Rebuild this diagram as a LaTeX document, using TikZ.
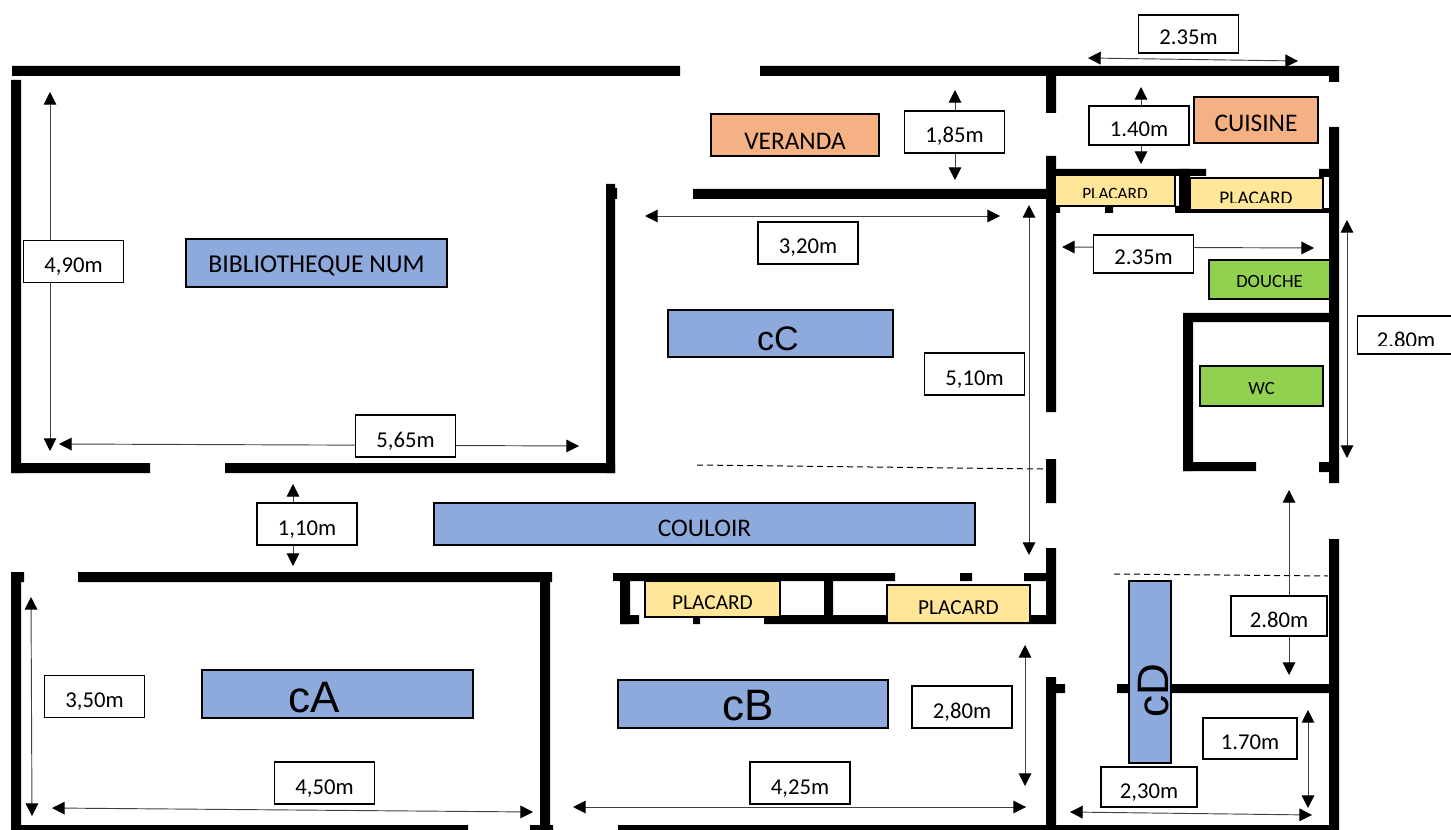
\documentclass[tikz,border=0pt]{standalone}
\usepackage{fontspec}
\usetikzlibrary{arrows.meta}
\setmainfont{Carlito}
\newfontfamily\bigfont{Liberation Sans}
\tikzset{
    wall/.style={fill=black},
    dimline/.style={<->,>={Triangle[length=9.5pt,width=9.5pt,color=black]},line width=0.7pt,draw=black!75},
    cutline/.style={dash pattern=on 4.5pt off 3pt,line width=0.75pt},
    dimbox/.style={draw,fill=white,line width=1pt,inner sep=0pt,minimum width=75pt,minimum height=31.5pt,
        text height=16.5pt,text depth=0pt,font=\fontsize{17}{20}\selectfont},
    room/.style={draw,line width=1pt,inner sep=0pt,text depth=0pt},
    blueroom/.style={room,fill={rgb,255:red,142;green,169;blue,219}},
    orangeroom/.style={room,fill={rgb,255:red,244;green,177;blue,131},font=\fontsize{19}{22}\selectfont},
    yellowroom/.style={room,fill={rgb,255:red,255;green,230;blue,153},font=\fontsize{16}{19}\selectfont,text height=15pt},
    greenroom/.style={room,fill={rgb,255:red,146;green,208;blue,80},font=\fontsize{14}{17}\selectfont},
    bigtext/.style={anchor=base,inner sep=0pt,font=\bigfont\fontsize{33}{36}\selectfont},
    cuttext/.style={anchor=base,inner sep=0pt},
}
\begin{document}
\begin{tikzpicture}[x=0.75pt,y=-0.75pt]
    \useasboundingbox (0,0) rectangle (1451,830);
    % library and veranda
    \fill[wall] (12,66) rectangle (680,76) (11,80) rectangle (21,473);
    \fill[wall] (11,463) rectangle (150,473) (225,463) rectangle (615,473);
    \fill[wall] (606,184) rectangle (615,473) (606,188) rectangle (617,199);
    \fill[wall] (760,66) rectangle (1339,76) (1329,66) rectangle (1339,82);
    \fill[wall] (1046,76) rectangle (1056,113) (693,189) rectangle (1056,199);
    % cuisine, douche, wc
    \fill[wall] (1046,156) rectangle (1056,412) (1329,127) rectangle (1339,483);
    \fill[wall] (1056,169) rectangle (1206,176) (1319,169) rectangle (1329,177);
    \fill[wall] (1179,169) rectangle (1190,213) (1175,206) rectangle (1190,213);
    \fill[wall] (1056,206) rectangle (1060,213) (1105,206) rectangle (1113,213);
    \fill[wall] (1190,208) rectangle (1329,213);
    \fill[wall] (1183,313) rectangle (1329,322) (1183,313) rectangle (1193,471);
    \fill[wall] (1183,462) rectangle (1256,471) (1319,462) rectangle (1329,472);
    % middle wall
    \fill[wall] (1046,459) rectangle (1056,503) (1046,548) rectangle (1056,624);
    \fill[wall] (1046,677) rectangle (1056,830) (1056,684) rectangle (1065,693);
    \fill[wall] (1329,539) rectangle (1339,830) (1117,684) rectangle (1329,693);
    % lower placards
    \fill[wall] (613,573) rectangle (895,581) (960,573) rectangle (972,581);
    \fill[wall] (1024,573) rectangle (1046,581) (620,573) rectangle (630,624);
    \fill[wall] (620,615) rectangle (639,624) (693,617) rectangle (700,624);
    \fill[wall] (764,615) rectangle (1046,624) (824,581) rectangle (833,615);
    % lower rooms
    \fill[wall] (78,572) rectangle (552,582) (11,572) rectangle (24,582);
    \fill[wall] (11,572) rectangle (21,830) (540,572) rectangle (550,830);
    \fill[wall] (11,825) rectangle (468,830) (530,825) rectangle (553,830);
    \fill[wall] (618,825) rectangle (1339,830);

    \coordinate (coupeA) at (697,465);
    \coordinate (coupeB) at (1043,469);
    \coordinate (coupeC) at (1114,574);
    \coordinate (coupeD) at (1328,576);
    \draw[cutline] (coupeA) -- (coupeB);
    \draw[cutline] (coupeC) -- (coupeD);

    \coordinate (cuiA) at (1088,58);
    \coordinate (cuiB) at (1298,61);
    \coordinate (cuiC) at (1141,87);
    \coordinate (cuiD) at (1141,164);
    \coordinate (verA) at (955,90);
    \coordinate (verB) at (955,180);
    \coordinate (ccA) at (645,216);
    \coordinate (ccB) at (1000,216);
    \coordinate (ccC) at (1029,205);
    \coordinate (ccD) at (1029,555);
    \coordinate (douA) at (1062,247);
    \coordinate (douB) at (1314,248);
    \coordinate (douC) at (1347,220);
    \coordinate (douD) at (1347,458);
    \coordinate (bibA) at (50,92);
    \coordinate (bibB) at (50,451);
    \coordinate (bibC) at (59,444);
    \coordinate (bibD) at (579,446);
    \coordinate (couA) at (293,484);
    \coordinate (couB) at (293,566);
    \coordinate (caA) at (31,597);
    \coordinate (caB) at (32,816);
    \coordinate (caC) at (52,808);
    \coordinate (caD) at (533,812);
    \coordinate (cbA) at (1025,645);
    \coordinate (cbB) at (1025,786);
    \coordinate (cbC) at (573,807);
    \coordinate (cbD) at (1026,807);
    \coordinate (cdA) at (1289,490);
    \coordinate (cdB) at (1289,675);
    \coordinate (cdC) at (1308,710);
    \coordinate (cdD) at (1308,808);
    \coordinate (cdE) at (1070,812);
    \coordinate (cdF) at (1312,815);
    \draw[dimline] (cuiA) -- (cuiB);
    \draw[dimline] (cuiC) -- (cuiD);
    \draw[dimline] (verA) -- (verB);
    \draw[dimline] (ccA) -- (ccB);
    \draw[dimline] (ccC) -- (ccD);
    \draw[dimline] (douA) -- (douB);
    \draw[dimline] (douC) -- (douD);
    \draw[dimline] (bibA) -- (bibB);
    \draw[dimline] (bibC) -- (bibD);
    \draw[dimline] (couA) -- (couB);
    \draw[dimline] (caA) -- (caB);
    \draw[dimline] (caC) -- (caD);
    \draw[dimline] (cbA) -- (cbB);
    \draw[dimline] (cbC) -- (cbD);
    \draw[dimline] (cdA) -- (cdB);
    \draw[dimline] (cdC) -- (cdD);
    \draw[dimline] (cdE) -- (cdF);

    \node[blueroom,minimum width=195.75pt,minimum height=36pt,text height=15pt,font=\fontsize{19.3}{23}\selectfont] (bib) at (316.5,263) {BIBLIOTHEQUE NUM};
    \node[orangeroom,minimum width=126pt,minimum height=31.5pt,text height=22.5pt] (ver) at (795,135) {VERANDA};
    \node[orangeroom,minimum width=93pt,minimum height=34.5pt,text height=18pt] (cui) at (1256,120) {CUISINE};
    \node[blueroom,minimum width=405.75pt,minimum height=31.5pt,text height=18pt,font=\fontsize{19}{22}\selectfont] (cou) at (704.5,524) {COULOIR};
    \node[blueroom,minimum width=168.75pt,minimum height=35.25pt] (cC) at (780.5,333.5) {};
    \node[blueroom,minimum width=203.25pt,minimum height=36pt] (cA) at (337.5,694) {};
    \node[blueroom,minimum width=202.5pt,minimum height=36pt] (cB) at (753,704) {};
    \node[blueroom,minimum width=31.5pt,minimum height=136.5pt] (cD) at (1150,672) {};
    \node[bigtext,font=\bigfont\fontsize{25.5}{28}\selectfont] (cCtext) at (778,350) {cC};
    \node[bigtext] (cAtext) at (314,712) {cA};
    \node[bigtext] (cBtext) at (748,720) {cB};
    \node[bigtext,rotate=90] (cDtext) at (1168,691) {cD};

    \node[greenroom,minimum width=90.75pt,minimum height=29.25pt,text height=12.5pt] (dou) at (1269.5,279.5) {DOUCHE};
    \node[greenroom,minimum width=92.25pt,minimum height=30pt,text height=12pt] (wc) at (1261.5,386) {WC};
    \node[yellowroom,minimum width=101.25pt,minimum height=27pt] (plA) at (712.5,599) {PLACARD};
    \node[yellowroom,minimum width=107.25pt,minimum height=28.5pt] (plB) at (958.5,604) {PLACARD};
    \node[yellowroom,minimum width=90pt,minimum height=23.25pt] (plC) at (1115,190.5) {};
    \node[yellowroom,minimum width=99.75pt,minimum height=24pt] (plD) at (1256.5,194) {};
    \begin{scope}
        \clip (1056,176) rectangle (1175,198);
        \node[cuttext,font=\fontsize{13}{16}\selectfont] (plCtext) at (1115,200) {PLACARD};
    \end{scope}
    \begin{scope}
        \clip (1191,179) rectangle (1322,203);
        \node[cuttext,font=\fontsize{14.5}{17}\selectfont] (plDtext) at (1256,205) {PLACARD};
    \end{scope}

    \node[dimbox,minimum height=28.5pt] (dA) at (1188.5,34) {2.35m};
    \node[dimbox,minimum height=29.25pt] (dB) at (1139,125.5) {1.40m};
    \node[dimbox] (dC) at (954.5,132) {1,85m};
    \node[dimbox] (dD) at (808,243) {3,20m};
    \node[dimbox,minimum height=28.5pt] (dE) at (1143.5,254) {2.35m};
    \node[dimbox] (dF) at (974.5,374) {5,10m};
    \node[dimbox] (dG) at (73.5,261.5) {4,90m};
    \node[dimbox] (dH) at (405.5,436) {5,65m};
    \node[dimbox] (dI) at (307,524) {1,10m};
    \node[dimbox] (dJ) at (94.5,696.5) {3,50m};
    \node[dimbox] (dK) at (324.5,783) {4,50m};
    \node[dimbox] (dL) at (800,783) {4,25m};
    \node[dimbox] (dM) at (962,707) {2,80m};
    \node[dimbox,minimum width=72pt,minimum height=30pt] (dN) at (1279,616) {2.80m};
    \node[dimbox,minimum width=70.5pt,minimum height=30.75pt] (dO) at (1250,738.5) {1.70m};
    \node[dimbox,minimum width=72pt,minimum height=30pt] (dP) at (1149,787) {2,30m};
    \node[dimbox,minimum width=77pt,minimum height=28.5pt] (dQ) at (1408.5,335) {};
    \begin{scope}
        \clip (1358,317) rectangle (1451,345);
        \node[cuttext,font=\fontsize{17}{20}\selectfont] (dQtext) at (1406,347) {2.80m};
    \end{scope}
\end{tikzpicture}
\end{document}
